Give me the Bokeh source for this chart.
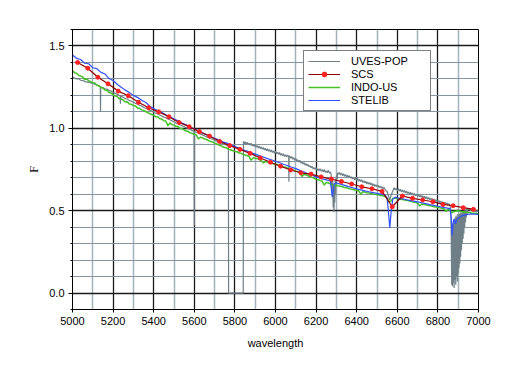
from bokeh.plotting import figure
from bokeh.models import FixedTicker, Range1d, CustomJSTickFormatter
from bokeh.embed import file_html
from bokeh.resources import INLINE

# ---------------- data ----------------
x_ticks = [5000, 5200, 5400, 5600, 5800, 6000, 6200, 6400, 6600, 6800, 7000]
x_minor = [5100, 5300, 5500, 5700, 5900, 6100, 6300, 6500, 6700, 6900]
y_ticks = [0.0, 0.5, 1.0, 1.5]
y_minor = [-0.1, 0.0, 0.1, 0.2, 0.3, 0.4, 0.5, 0.6, 0.7, 0.8, 0.9, 1.0,
           1.1, 1.2, 1.3, 1.4, 1.5, 1.6]

# SCS (coarse, with markers)
scs_wave = list(range(5025, 7000, 50))
scs_flux = [1.400, 1.365, 1.310, 1.270, 1.226, 1.198, 1.158, 1.125, 1.100, 1.070,
            1.035, 1.010, 0.980, 0.953, 0.920, 0.895, 0.872, 0.848, 0.820, 0.794,
            0.770, 0.747, 0.730, 0.722, 0.705, 0.692, 0.677, 0.662, 0.645, 0.633,
            0.617, 0.524, 0.589, 0.575, 0.565, 0.554, 0.538, 0.530, 0.518, 0.508]

# INDO-US, sampled every 10 A from 5000 to 7000
indo_wave = list(range(5000, 7001, 10))
indo_flux = [
    1.350, 1.338, 1.335, 1.322, 1.318, 1.312, 1.296, 1.300, 1.288, 1.284,
    1.276, 1.275, 1.262, 1.258, 1.248, 1.245, 1.232, 1.231, 1.218, 1.214,
    1.205, 1.196, 1.194, 1.180, 1.178, 1.171, 1.160, 1.162, 1.148, 1.146,
    1.138, 1.136, 1.124, 1.122, 1.112, 1.109, 1.102, 1.095, 1.090, 1.084,
    1.080, 1.070, 1.070, 1.058, 1.056, 1.046, 1.044, 1.015, 1.033, 1.022,
    1.020, 1.012, 1.010, 1.000, 0.998, 0.990, 0.984, 0.981, 0.972, 0.970,
    0.962, 0.960, 0.935, 0.946, 0.943, 0.935, 0.932, 0.926, 0.920, 0.917,
    0.910, 0.906, 0.898, 0.896, 0.888, 0.884, 0.880, 0.872, 0.870, 0.864,
    0.860, 0.858, 0.850, 0.848, 0.842, 0.838, 0.835, 0.828, 0.806, 0.822,
    0.818, 0.816, 0.810, 0.805, 0.790, 0.798, 0.796, 0.790, 0.789, 0.784,
    0.782, 0.780, 0.774, 0.772, 0.765, 0.764, 0.758, 0.755, 0.750, 0.746,
    0.740, 0.737, 0.730, 0.708, 0.720, 0.718, 0.712, 0.706, 0.702, 0.697,
    0.690, 0.688, 0.682, 0.680, 0.655, 0.672, 0.668, 0.664, 0.655, 0.650,
    0.654, 0.650, 0.648, 0.645, 0.640, 0.639, 0.635, 0.632, 0.630, 0.626,
    0.624, 0.620, 0.600, 0.615, 0.613, 0.609, 0.607, 0.604, 0.601, 0.599,
    0.597, 0.595, 0.592, 0.590, 0.586, 0.578, 0.552, 0.560, 0.576, 0.577,
    0.574, 0.570, 0.569, 0.566, 0.563, 0.561, 0.558, 0.555, 0.552, 0.550,
    0.547, 0.528, 0.541, 0.539, 0.536, 0.533, 0.530, 0.528, 0.524, 0.522,
    0.519, 0.517, 0.514, 0.512, 0.495, 0.507, 0.500, 0.488, 0.495, 0.498,
    0.499, 0.497, 0.494, 0.493, 0.490, 0.489, 0.487, 0.485, 0.484, 0.483,
    0.482]

# STELIB (wavelength, flux)
STELIB = [
    (5000, 1.445), (5020, 1.425), (5040, 1.418), (5060, 1.395), (5080, 1.392),
    (5100, 1.368), (5120, 1.362), (5140, 1.340), (5160, 1.330), (5180, 1.302),
    (5200, 1.290), (5220, 1.268), (5240, 1.250), (5260, 1.232), (5280, 1.218),
    (5300, 1.200), (5320, 1.188), (5340, 1.170), (5360, 1.158), (5380, 1.136),
    (5400, 1.120), (5420, 1.108), (5440, 1.096), (5460, 1.082), (5480, 1.070),
    (5500, 1.056), (5520, 1.046), (5540, 1.032), (5560, 1.022), (5580, 1.006),
    (5600, 0.996), (5620, 0.985), (5640, 0.972), (5660, 0.962), (5680, 0.950),
    (5700, 0.940), (5720, 0.930), (5740, 0.918), (5760, 0.910), (5780, 0.898),
    (5800, 0.890), (5820, 0.880), (5840, 0.870), (5860, 0.862), (5880, 0.851),
    (5900, 0.843), (5920, 0.834), (5940, 0.826), (5960, 0.816), (5980, 0.809),
    (6000, 0.800), (6020, 0.791), (6040, 0.782), (6060, 0.773), (6080, 0.764),
    (6100, 0.755), (6120, 0.745), (6140, 0.735), (6160, 0.724), (6180, 0.715),
    (6200, 0.705), (6220, 0.698), (6240, 0.690), (6260, 0.684), (6270, 0.680),
    (6280, 0.585), (6290, 0.665), (6300, 0.668), (6320, 0.661), (6340, 0.654),
    (6360, 0.646), (6380, 0.639), (6400, 0.632), (6420, 0.626), (6440, 0.620),
    (6460, 0.615), (6480, 0.610), (6500, 0.605), (6520, 0.600), (6540, 0.595),
    (6550, 0.575), (6556, 0.500), (6563, 0.395), (6570, 0.500), (6578, 0.570),
    (6590, 0.582), (6600, 0.578), (6620, 0.573), (6640, 0.568), (6660, 0.563),
    (6680, 0.558), (6700, 0.553), (6720, 0.548), (6740, 0.543), (6760, 0.537),
    (6780, 0.532), (6800, 0.527), (6820, 0.522), (6840, 0.517), (6860, 0.512),
    (6866, 0.450), (6870, 0.350), (6875, 0.430), (6880, 0.450), (6886, 0.420),
    (6892, 0.440), (6900, 0.455), (6910, 0.462), (6920, 0.470), (6940, 0.476),
    (6960, 0.480), (6980, 0.479), (7000, 0.478)]

# UVES-POP (wavelength, flux)
UVES = [
    (5000, 1.312), (5010, 1.305), (5020, 1.300), (5030, 1.302), (5040, 1.292),
    (5050, 1.290), (5060, 1.285), (5070, 1.280), (5080, 1.282), (5090, 1.275),
    (5100, 1.272), (5110, 1.268), (5120, 1.262), (5130, 1.258), (5137, 1.252),
    (5138, 1.100), (5139, 1.250), (5150, 1.248), (5160, 1.240), (5170, 1.238),
    (5180, 1.230), (5190, 1.226), (5200, 1.218), (5210, 1.212), (5220, 1.208),
    (5230, 1.200), (5235, 1.198), (5236, 1.150), (5237, 1.196), (5250, 1.188),
    (5260, 1.180), (5270, 1.178), (5280, 1.168), (5290, 1.165), (5300, 1.158),
    (5310, 1.152), (5320, 1.146), (5330, 1.140), (5340, 1.136), (5350, 1.128),
    (5360, 1.122), (5370, 1.118), (5380, 1.110), (5390, 1.105), (5400, 1.098),
    (5410, 1.092), (5420, 1.088), (5430, 1.080), (5440, 1.075), (5450, 1.068),
    (5460, 1.064), (5470, 1.056), (5480, 1.052), (5490, 1.045), (5500, 1.040),
    (5510, 1.032), (5520, 1.028), (5530, 1.020), (5540, 1.016), (5550, 1.010),
    (5560, 1.004), (5570, 0.998), (5580, 0.994), (5590, 0.986), (5599, 0.983),
    (5600, 0.410), (5601, 0.982), (5610, 0.976), (5620, 0.970), (5630, 0.965),
    (5640, 0.960), (5650, 0.955), (5660, 0.948), (5670, 0.944), (5680, 0.938),
    (5690, 0.934), (5700, 0.928), (5710, 0.922), (5720, 0.918), (5730, 0.912),
    (5740, 0.908), (5750, 0.902), (5760, 0.898), (5768, 0.895), (5769, 0.000),
    (5841, 0.000), (5842, 0.920), (5846, 0.905), (5850, 0.918), (5855, 0.904),
    (5860, 0.916), (5865, 0.900), (5870, 0.910), (5875, 0.897), (5880, 0.909),
    (5885, 0.893), (5890, 0.903), (5895, 0.890), (5900, 0.901), (5905, 0.885),
    (5910, 0.895), (5915, 0.881), (5920, 0.892), (5925, 0.877), (5930, 0.887),
    (5935, 0.873), (5940, 0.884), (5945, 0.869), (5950, 0.879), (5955, 0.864),
    (5960, 0.876), (5965, 0.861), (5970, 0.871), (5975, 0.857), (5980, 0.868),
    (5985, 0.853), (5990, 0.864), (5995, 0.849), (6000, 0.861), (6005, 0.846),
    (6010, 0.855), (6015, 0.842), (6020, 0.853), (6025, 0.837), (6030, 0.847),
    (6035, 0.833), (6040, 0.845), (6045, 0.829), (6050, 0.840), (6055, 0.826),
    (6060, 0.838), (6065, 0.830), (6066, 0.676), (6067, 0.830), (6070, 0.832),
    (6075, 0.818), (6080, 0.829), (6085, 0.812), (6090, 0.822), (6095, 0.806),
    (6100, 0.818), (6105, 0.800), (6110, 0.809), (6115, 0.795), (6120, 0.806),
    (6125, 0.789), (6130, 0.797), (6135, 0.783), (6140, 0.792), (6145, 0.777),
    (6150, 0.786), (6155, 0.772), (6160, 0.781), (6165, 0.766), (6170, 0.774),
    (6175, 0.760), (6180, 0.770), (6185, 0.754), (6190, 0.762), (6195, 0.750),
    (6200, 0.762), (6205, 0.746), (6210, 0.754), (6215, 0.742), (6220, 0.755),
    (6225, 0.740), (6230, 0.748), (6235, 0.736), (6240, 0.750), (6245, 0.733),
    (6250, 0.741), (6255, 0.730), (6260, 0.745), (6265, 0.728), (6270, 0.736),
    (6274, 0.720), (6276, 0.640), (6278, 0.700), (6280, 0.580), (6282, 0.680),
    (6284, 0.520), (6286, 0.660), (6288, 0.490), (6290, 0.640), (6292, 0.550),
    (6294, 0.680), (6296, 0.600), (6298, 0.700), (6300, 0.650), (6302, 0.720),
    (6304, 0.690), (6306, 0.730), (6310, 0.722), (6315, 0.732), (6320, 0.716),
    (6325, 0.728), (6330, 0.713), (6335, 0.724), (6340, 0.709), (6345, 0.720),
    (6350, 0.704), (6355, 0.715), (6360, 0.701), (6365, 0.712), (6370, 0.696),
    (6375, 0.706), (6380, 0.692), (6385, 0.703), (6390, 0.688), (6395, 0.699),
    (6400, 0.684), (6405, 0.696), (6410, 0.679), (6415, 0.690), (6420, 0.677),
    (6425, 0.688), (6430, 0.671), (6435, 0.682), (6440, 0.668), (6445, 0.679),
    (6450, 0.663), (6455, 0.673), (6460, 0.660), (6465, 0.671), (6470, 0.656),
    (6475, 0.666), (6480, 0.652), (6485, 0.662), (6490, 0.647), (6495, 0.657),
    (6500, 0.645), (6505, 0.655), (6510, 0.640), (6515, 0.650), (6520, 0.637),
    (6525, 0.646), (6530, 0.630), (6535, 0.640), (6540, 0.628), (6550, 0.615),
    (6556, 0.590), (6563, 0.565), (6570, 0.595), (6578, 0.620), (6584, 0.640),
    (6590, 0.626), (6595, 0.636), (6600, 0.622), (6605, 0.634), (6610, 0.620),
    (6615, 0.630), (6620, 0.614), (6625, 0.626), (6630, 0.612), (6635, 0.622),
    (6640, 0.607), (6645, 0.619), (6650, 0.604), (6655, 0.614), (6660, 0.600),
    (6665, 0.612), (6670, 0.597), (6675, 0.607), (6680, 0.593), (6685, 0.604),
    (6690, 0.590), (6695, 0.600), (6700, 0.587), (6705, 0.598), (6710, 0.584),
    (6715, 0.594), (6720, 0.580), (6725, 0.591), (6730, 0.577), (6735, 0.587),
    (6740, 0.573), (6745, 0.584), (6750, 0.570), (6755, 0.580), (6760, 0.566),
    (6765, 0.577), (6770, 0.563), (6775, 0.573), (6780, 0.559), (6785, 0.569),
    (6790, 0.555), (6795, 0.566), (6800, 0.552), (6805, 0.562), (6810, 0.548),
    (6815, 0.558), (6820, 0.544), (6825, 0.554), (6830, 0.541), (6835, 0.551),
    (6840, 0.537), (6845, 0.547), (6850, 0.534), (6855, 0.543), (6860, 0.530),
    (6864, 0.500), (6866, 0.300), (6868, 0.050),
    (6870, 0.400), (6872, 0.040), (6874, 0.420), (6876, 0.060), (6878, 0.440),
    (6880, 0.030), (6882, 0.450), (6884, 0.080), (6886, 0.460), (6888, 0.050),
    (6890, 0.470), (6892, 0.100), (6894, 0.460), (6896, 0.070), (6898, 0.480),
    (6900, 0.120), (6902, 0.470), (6904, 0.150), (6906, 0.480), (6908, 0.180),
    (6910, 0.490), (6912, 0.220), (6914, 0.480), (6916, 0.260), (6918, 0.490),
    (6920, 0.300), (6922, 0.500), (6924, 0.330), (6926, 0.490), (6928, 0.360),
    (6930, 0.500), (6932, 0.400), (6934, 0.510), (6936, 0.430), (6938, 0.500),
    (6940, 0.460), (6942, 0.510), (6944, 0.480), (6946, 0.510), (6950, 0.505),
    (6955, 0.514), (6960, 0.500), (6965, 0.510), (6970, 0.498), (6975, 0.507),
    (6980, 0.494), (6985, 0.504), (6990, 0.491), (6995, 0.500), (7000, 0.492)]

stelib_wave = [w for w, f in STELIB]
stelib_flux = [f for w, f in STELIB]
uves_wave = [w for w, f in UVES]
uves_flux = [f for w, f in UVES]

# ---------------- figure ----------------
FONT = "Liberation Sans"
p = figure(width=510, height=371, output_backend="svg", toolbar_location=None,
           x_range=Range1d(5000, 7000), y_range=Range1d(-0.1, 1.6),
           min_border_left=72, min_border_right=32, min_border_top=29,
           min_border_bottom=62)
p.background_fill_color = "white"
p.border_fill_color = "white"
p.outline_line_color = "black"
p.outline_line_width = 1

p.xaxis.ticker = FixedTicker(ticks=x_ticks, minor_ticks=x_minor)
p.yaxis.ticker = FixedTicker(ticks=y_ticks, minor_ticks=y_minor)
p.xgrid.ticker = p.xaxis.ticker
p.ygrid.ticker = p.yaxis.ticker
p.yaxis.formatter = CustomJSTickFormatter(code="return tick.toFixed(1);")

p.xgrid.grid_line_color = "#1a1a1a"
p.xgrid.grid_line_width = 1.3
p.xgrid.minor_grid_line_color = "#a3b3bb"
p.xgrid.minor_grid_line_width = 1.5
p.ygrid.grid_line_color = "#1a1a1a"
p.ygrid.grid_line_width = 1.3
p.ygrid.minor_grid_line_color = "#8495a0"
p.ygrid.minor_grid_line_width = 1

for ax in (p.xaxis, p.yaxis):
    ax.axis_line_color = "black"
    ax.major_tick_line_color = "black"
    ax.minor_tick_line_color = "black"
    ax.major_tick_in = 0
    ax.minor_tick_in = 0
    ax.major_label_text_font = FONT
    ax.major_label_text_font_size = "11px"
    ax.major_label_text_color = "black"
    ax.axis_label_text_color = "black"
    ax.axis_label_text_font_style = "normal"

p.xaxis.major_tick_out = 3
p.xaxis.minor_tick_out = 0
p.yaxis.major_tick_out = 4
p.yaxis.minor_tick_out = 2
p.xaxis.major_label_standoff = 4
p.yaxis.major_label_standoff = 4
p.xaxis.axis_label = "wavelength"
p.xaxis.axis_label_text_font = FONT
p.xaxis.axis_label_text_font_size = "11px"
p.xaxis.axis_label_standoff = 9
p.yaxis.axis_label = "F"
p.yaxis.axis_label_text_font = "Liberation Serif"
p.yaxis.axis_label_text_font_size = "12px"
p.yaxis.axis_label_standoff = 5

# ---------------- series ----------------
p.line(uves_wave, uves_flux, line_color="#6e7f88", line_width=1.2,
       legend_label="UVES-POP")
p.line(indo_wave, indo_flux, line_color="#45c025", line_width=1.5,
       legend_label="INDO-US")
p.line(stelib_wave, stelib_flux, line_color="#3050ff", line_width=1.2,
       legend_label="STELIB")
p.line(scs_wave, scs_flux, line_color="#8b0000", line_width=1.2,
       legend_label="SCS")
p.scatter(scs_wave, scs_flux, size=4, fill_color="#ff2020",
          line_color="#ff2020", legend_label="SCS")

# order legend: UVES-POP, SCS, INDO-US, STELIB
leg = p.legend[0]
items = {it.label.value: it for it in leg.items}
leg.items = [items["UVES-POP"], items["SCS"], items["INDO-US"], items["STELIB"]]
leg.location = (231, 198)
leg.border_line_color = "black"
leg.border_line_width = 1
leg.background_fill_color = "white"
leg.background_fill_alpha = 1
leg.label_text_font = FONT
leg.label_text_font_size = "11px"
leg.label_text_color = "black"
leg.padding = 4
leg.spacing = 1
leg.margin = 0
leg.glyph_width = 32
leg.glyph_height = 12
leg.label_height = 12
leg.label_standoff = 11
leg.label_width = 75

open("out.html", "w").write(file_html(p, INLINE))
